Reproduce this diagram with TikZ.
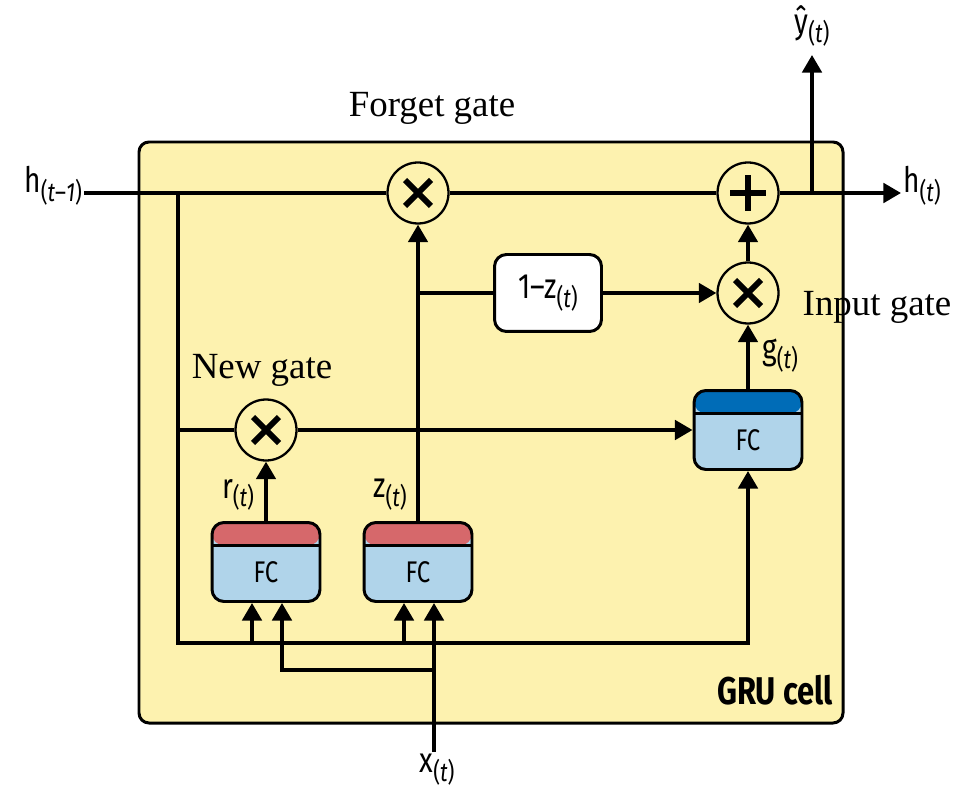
\documentclass[tikz,border=0pt]{standalone}
\usepackage{fontspec}
\setmainfont{Liberation Serif}
\newfontfamily\grufont[FakeStretch=0.8]{Fira Sans}
\usetikzlibrary{arrows.meta}
\definecolor{cellY}{RGB}{253,242,175}
\definecolor{gateR}{RGB}{214,104,107}
\definecolor{fcB}{RGB}{176,212,234}
\definecolor{gateB}{RGB}{0,108,183}
\newcommand\tsub[1]{\raisebox{-5pt}{\fontsize{15}{15}\selectfont(#1)}}

\begin{document}
\begin{tikzpicture}[x=0.02cm,y=-0.02cm,>={Triangle[length=10pt,width=11pt]},
  flow/.style={line width=2.2pt},
  cell/.style={line width=1.7pt,fill=cellY,rounded corners=0.2cm},
  op/.style={circle,draw,line width=1.3pt,fill=cellY,minimum size=1.22cm,inner sep=0pt},
  mul/.style={op,path picture={
    \draw[line width=3.4pt] ([shift={(-0.26cm,-0.26cm)}]path picture bounding box.center) -- ([shift={(0.26cm,0.26cm)}]path picture bounding box.center)
      ([shift={(-0.26cm,0.26cm)}]path picture bounding box.center) -- ([shift={(0.26cm,-0.26cm)}]path picture bounding box.center);}},
  add/.style={op,path picture={
    \draw[line width=3.4pt] ([xshift=-0.36cm]path picture bounding box.center) -- ([xshift=0.36cm]path picture bounding box.center)
      ([yshift=-0.36cm]path picture bounding box.center) -- ([yshift=0.36cm]path picture bounding box.center);}},
  fc/.style={draw,line width=1.7pt,rounded corners=0.24cm,minimum width=2.16cm,minimum height=1.58cm,inner sep=0pt},
  band/.style={path picture={
    \fill[#1] (path picture bounding box.north west) rectangle ([yshift=-0.46cm]path picture bounding box.north east);
    \draw[line width=1.7pt] ([yshift=-0.46cm]path picture bounding box.north west) -- ([yshift=-0.46cm]path picture bounding box.north east);}},
  fctext/.style={font=\grufont\fontsize{17}{19}\selectfont,inner sep=0pt},
  lbl/.style={font=\grufont\fontsize{20}{22}\selectfont,inner sep=1pt},
  note/.style={font=\fontsize{21}{24}\selectfont,inner sep=1pt},
  cellname/.style={font=\grufont\bfseries\fontsize{22}{24}\selectfont,inner sep=1pt}]
\useasboundingbox (0,0) rectangle (979,793);
% GRU cell box
\draw[cell] (139,142) rectangle (843,723);
\node[cellname] (grutag) at (775,690) {GRU cell};
% operators
\node[mul] (mulF) at (418,193) {};
\node[add] (addH) at (748,193) {};
\node[mul] (mulI) at (748,293) {};
\node[mul] (mulN) at (266,430) {};
% fully connected layers
\node[fc,fill=fcB,band=gateR] (fcR) at (266,562) {};
\node[fctext] (fcRtxt) at ([yshift=-0.21cm]fcR.center) {FC};
\node[fc,fill=fcB,band=gateR] (fcZ) at (418,562) {};
\node[fctext] (fcZtxt) at ([yshift=-0.21cm]fcZ.center) {FC};
\node[fc,fill=fcB,band=gateB] (fcG) at (748,430) {};
\node[fctext] (fcGtxt) at ([yshift=-0.21cm]fcG.center) {FC};
\node[fc,fill=white,minimum width=2.14cm,minimum height=1.54cm] (onemz) at (548,293) {};
\node[lbl] (onemztxt) at (onemz.center) {1–z\tsub{\textit{t}}};
% inputs and outputs
\node[lbl,anchor=base east] (hprev) at (84,193) {h\tsub{\textit{t}–\textit{1}}};
\node[lbl,anchor=base west] (hnext) at (901,193) {h\tsub{\textit{t}}};
\node[lbl,anchor=south,outer sep=4pt] (yhat) at (812,55) {ŷ\tsub{\textit{t}}};
\node[lbl,anchor=north] (xin) at (437,752) {x\tsub{\textit{t}}};
\node[lbl] (rlab) at (238,495) {r\tsub{\textit{t}}};
\node[lbl] (zlab) at (390,495) {z\tsub{\textit{t}}};
\node[lbl] (glab) at (780,356) {g\tsub{\textit{t}}};
% gate names
\node[note] (forget) at (432,108) {Forget gate};
\node[note] (newg) at (262,370) {New gate};
\node[note] (inputg) at (877,307) {Input gate};
% junctions
\coordinate (jL) at (178,193);
\coordinate (jY) at (812,193);
\coordinate (jZ) at (418,293);
\coordinate (jB) at (178,643);
\coordinate (rIn1) at ([xshift=-0.28cm]fcR.south);
\coordinate (rIn2) at ([xshift=0.32cm]fcR.south);
\coordinate (zIn1) at ([xshift=-0.28cm]fcZ.south);
\coordinate (zIn2) at ([xshift=0.32cm]fcZ.south);
\coordinate (jX) at (zIn2 |- 0,670);
% hidden state path
\draw[flow] (hprev.base east) -- (mulF);
\draw[flow] (mulF) -- (addH);
\draw[flow,->] (addH) -- (hnext.base west);
\draw[flow,->] (jY) -- (yhat.south);
% h(t-1) into the layers
\draw[flow,->] (jL) -- (jB) -| (fcG.south);
\draw[flow,->] (jB -| rIn1) -- (rIn1);
\draw[flow,->] (jB -| zIn1) -- (zIn1);
% x(t) into the layers
\draw[flow,->] (xin.north -| zIn2) -- (zIn2);
\draw[flow,->] (jX) -| (rIn2);
% reset branch
\draw[flow] (jL |- mulN) -- (mulN);
\draw[flow,->] (mulN) -- (fcG);
\draw[flow,->] (fcR) -- (mulN);
% update branch
\draw[flow,->] (fcZ) -- (mulF);
\draw[flow] (jZ) -- (onemz);
\draw[flow,->] (onemz) -- (mulI);
\draw[flow,->] (fcG) -- (mulI);
\draw[flow,->] (mulI) -- (addH);
\end{tikzpicture}
\end{document}
